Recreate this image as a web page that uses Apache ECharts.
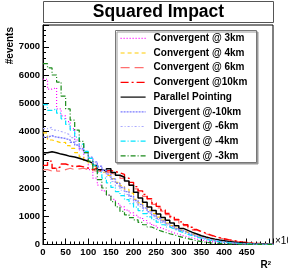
<!DOCTYPE html>
<html><head><meta charset="utf-8">
<script src="https://cdn.jsdelivr.net/npm/echarts@6/dist/echarts.min.js"></script>
<style>html,body{margin:0;padding:0;background:#fff}#c{width:288px;height:273px}</style>
</head><body><div id="c"></div>
<script>
var binEdges = [0,10,20,30,40,50,60,70,80,90,100,110,120,130,140,150,160,170,180,190,200,210,220,230,240,250,260,270,280,290,300,310,320,330,340,350,360,370,380,390,400,410,420,430,440,450,460,470,480,490,500];
var lastEdge = 510;
var xTicks = [0,50,100,150,200,250,300,350,400,450];
var yTicks = [0,1000,2000,3000,4000,5000,6000,7000];

var conv3 = [5850,5500,5550,4800,4550,4350,4100,3700,3350,3000,2650,2350,2100,1900,1750,1600,1450,1330,1220,1120,1030,940,850,760,680,600,530,470,410,360,310,270,230,190,160,130,105,85,65,50,40,30,22,16,12,8,6,4,3,2,1];
var conv4 = [3950,3700,3650,3600,3620,3500,3400,3250,3100,2950,2850,2750,2650,2550,2450,2330,2200,2080,1950,1820,1600,1470,1340,1210,1090,970,860,760,670,580,500,430,370,315,265,220,180,145,118,95,75,58,45,35,26,19,14,10,7,5,3];
var conv6 = [2650,2600,2700,2600,2650,2700,2650,2680,2700,2650,2620,2600,2580,2560,2530,2480,2420,2340,2230,2100,1970,1830,1700,1560,1420,1300,1180,1060,950,850,760,670,585,510,440,380,325,275,232,195,162,133,108,87,70,55,43,33,25,19,14];
var conv10 = [2800,2950,2700,2750,2850,2800,2750,2780,2750,2700,2650,2700,2620,2600,2620,2580,2540,2480,2350,2200,2050,1900,1770,1620,1470,1350,1220,1100,990,890,800,700,610,530,460,400,340,290,245,205,170,140,112,90,72,56,44,34,26,20,15];
var parallel = [3250,3280,3250,3200,3170,3120,3100,3050,3000,2950,2880,2800,2650,2600,2680,2550,2450,2380,2250,2100,1850,1650,1500,1330,1200,1080,960,860,760,660,570,500,430,370,310,265,225,190,160,135,110,90,72,58,46,36,28,21,16,12,9];
var div10 = [3800,3850,3800,3780,3750,3700,3620,3520,3400,3250,3080,2920,2770,2630,2490,2320,2170,2020,1870,1710,1560,1420,1290,1160,1040,930,830,730,640,560,485,415,355,300,250,210,172,140,113,90,70,55,42,32,24,18,13,9,6,4,3];
var div6 = [4100,4150,4050,4000,3950,3880,3780,3650,3480,3300,3100,2900,2720,2560,2400,2230,2070,1920,1770,1620,1480,1350,1220,1100,990,880,780,690,605,525,455,390,335,283,237,197,162,132,106,84,66,51,39,30,22,16,12,8,6,4,2];
var div4 = [4950,4750,4800,4650,4450,4250,4050,3800,3550,3300,3050,2800,2550,2350,2180,2020,1870,1730,1590,1450,1320,1200,1090,980,880,790,700,620,550,480,420,360,310,260,220,180,150,120,95,75,60,45,35,26,20,14,10,7,5,3,2];
var div3 = [6400,6250,6000,5750,5250,4800,4400,4050,3650,3250,2950,2650,2300,2000,1750,1520,1330,1170,1050,950,870,780,700,620,550,480,430,380,340,290,250,210,170,130,100,80,60,45,35,25,18,12,9,6,4,3,2,1,1,0,0];

var seriesDefs = [
  {name:'Convergent @ 3km', v:conv3, color:'#ff00ff', type:[1,2], w:1.2},
  {name:'Convergent @ 4km', v:conv4, color:'#ffcc00', type:[4,3], w:1.2},
  {name:'Convergent @ 6km', v:conv6, color:'#ff6f6f', type:[9,5], w:1.2},
  {name:'Convergent @10km', v:conv10, color:'#ff0000', type:[8,3,2,3], w:1.4},
  {name:'Parallel Pointing', v:parallel, color:'#000000', type:'solid', w:1.5},
  {name:'Divergent @-10km', v:div10, color:'#7b7bff', type:[2,1], w:1.4},
  {name:'Divergent @ -6km', v:div6, color:'#a9a9ff', type:[2,2,1,2], w:1.2},
  {name:'Divergent @ -4km', v:div4, color:'#00e5ff', type:[5,2,1,2], w:1.2},
  {name:'Divergent @ -3km', v:div3, color:'#1a8a1a', type:[5,2,1,2], w:1.2}
];

function toData(v){
  var d = binEdges.map(function(x,i){return [x, v[i]];});
  d.push([lastEdge, v[v.length-1]]);
  return d;
}

var FONT = '"Liberation Sans", Arial, Helvetica, sans-serif';
var chart = echarts.init(document.getElementById('c'), null, {renderer:'canvas'});
chart.setOption({
  animation:false,
  backgroundColor:'#fff',
  grid:{left:43, right:15, top:25, bottom:28.5, show:true, borderColor:'#000', borderWidth:1, backgroundColor:'#fff'},
  xAxis:{type:'value', min:0, max:508, interval:50,
    axisLine:{lineStyle:{color:'#000', width:1}},
    axisTick:{inside:true, length:6, lineStyle:{color:'#000'}},
    minorTick:{show:true, splitNumber:5, length:3, lineStyle:{color:'#000'}},
    splitLine:{show:false},
    axisLabel:{showMaxLabel:false, color:'#000', fontWeight:'bold', fontSize:9.5, fontFamily:FONT, margin:3,
      formatter:function(v){return xTicks.indexOf(v)>=0 ? String(v) : '';}}
  },
  yAxis:{type:'value', min:0, max:7770, interval:1000,
    axisLine:{show:true, lineStyle:{color:'#000', width:1}},
    axisTick:{show:true, inside:true, length:6, lineStyle:{color:'#000'}},
    minorTick:{show:true, splitNumber:5, length:3, lineStyle:{color:'#000'}},
    splitLine:{show:false},
    axisLabel:{showMaxLabel:false, color:'#000', fontWeight:'bold', fontSize:9.5, fontFamily:FONT, margin:3,
      formatter:function(v){return yTicks.indexOf(v)>=0 ? String(v) : '';}}
  },
  legend:{orient:'vertical', left:120, top:33.3, padding:0, itemWidth:25, itemHeight:10, itemGap:4.7,
    itemStyle:{opacity:0},
    lineStyle:{width:1.2},
    textStyle:{color:'#000', fontWeight:'bold', fontSize:10, fontFamily:FONT, padding:[0,0,0,3]},
    data:seriesDefs.map(function(s){return s.name;})
  },
  graphic:[
    {type:'rect', z:3, shape:{x:115.5, y:30.5, width:141, height:132}, style:{fill:'#fff', stroke:'#777', lineWidth:1, shadowColor:'#999', shadowOffsetX:1.5, shadowOffsetY:1.5, shadowBlur:0}},
    {type:'rect', z:3, shape:{x:43.5, y:1.5, width:230, height:21}, style:{fill:'#fff', stroke:'#555', lineWidth:1}},
    {type:'text', z:4, x:158.5, y:12.5, style:{text:'Squared Impact', fill:'#000', font:'bold 17.5px '+FONT, textAlign:'center', textVerticalAlign:'middle'}},
    {type:'text', z:4, x:10.5, y:27, rotation:Math.PI/2, style:{text:'#events', fill:'#000', font:'bold 10px '+FONT, textAlign:'right', textVerticalAlign:'middle'}},
    {type:'text', z:4, x:271, y:265, style:{rich:{b:{font:'bold 10px '+FONT, fill:'#000'}, s:{font:'bold 6px '+FONT, fill:'#000', verticalAlign:'top', padding:[0,0,4,0]}}, text:'{b|R}{s|2}', textAlign:'right', textVerticalAlign:'middle'}},
    {type:'text', z:4, x:275, y:241.5, style:{rich:{b:{font:'10px '+FONT, fill:'#000'}, s:{font:'6px '+FONT, fill:'#000'}}, text:'{b|\u00d710}{s|3}', textAlign:'left', textVerticalAlign:'middle'}}
  ],
  series:seriesDefs.map(function(s){
    return {name:s.name, type:'line', step:'end', showSymbol:false, symbol:'none', data:toData(s.v),
      lineStyle:{color:s.color, width:s.w, type:s.type}, itemStyle:{color:s.color}, z:2, clip:true};
  })
});
</script></body></html>
